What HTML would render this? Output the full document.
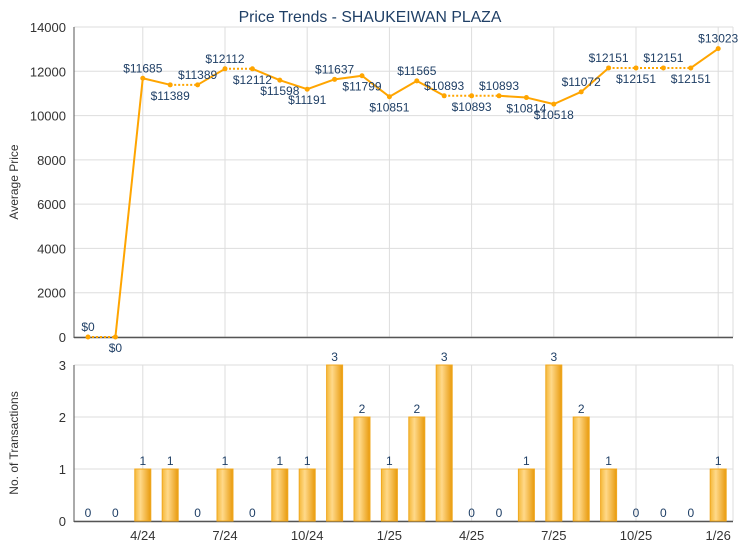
<!DOCTYPE html>
<html><head><meta charset="utf-8"><style>
html,body{margin:0;padding:0;background:#fff;}
svg{display:block;font-family:"Liberation Sans",sans-serif;}
</style></head><body>
<svg id="s" width="740" height="550" viewBox="0 0 740 550" xmlns="http://www.w3.org/2000/svg">
<defs>
<linearGradient id="bg" x1="0" x2="1" y1="0" y2="0">
<stop offset="0" stop-color="#f5b93a"/><stop offset="0.35" stop-color="#ffd98a"/><stop offset="1" stop-color="#e89a0c"/>
</linearGradient>
</defs>
<text x="370" y="22" text-anchor="middle" font-size="15.8" fill="#1f3f66">Price Trends - SHAUKEIWAN PLAZA</text>
<g id="g"></g>
</svg>
<script>
var g=document.getElementById('g'),h='';
var L=74,R=733;
function X(i){return 88+27.4*i;}
function Yt(v){return 337-v/14000*310;}
function Yb(v){return 521-v/3*156;}
for(var v=0;v<=14000;v+=2000){var y=Yt(v);h+='<line x1="'+L+'" x2="'+R+'" y1="'+y+'" y2="'+y+'" stroke="#ddd"/>';h+='<text x="66" y="'+(y+5)+'" text-anchor="end" font-size="13" fill="#333">'+v+'</text>';}
for(var c=0;c<=3;c++){var y=Yb(c);h+='<line x1="'+L+'" x2="'+R+'" y1="'+y+'" y2="'+y+'" stroke="#ddd"/>';h+='<text x="66" y="'+(y+5)+'" text-anchor="end" font-size="13" fill="#333">'+c+'</text>';}
var labs=['4/24','7/24','10/24','1/25','4/25','7/25','10/25','1/26'];
for(var k=0;k<8;k++){var x=X(2+3*k);h+='<line x1="'+x+'" x2="'+x+'" y1="27" y2="337" stroke="#ddd"/><line x1="'+x+'" x2="'+x+'" y1="365" y2="521" stroke="#ddd"/>';h+='<text x="'+x+'" y="540" text-anchor="middle" font-size="13" fill="#333">'+labs[k]+'</text>';}
h+='<line x1="'+R+'" x2="'+R+'" y1="27" y2="337" stroke="#ddd"/><line x1="'+R+'" x2="'+R+'" y1="365" y2="521" stroke="#ddd"/>';
h+='<line x1="'+L+'" x2="'+L+'" y1="27" y2="338" stroke="#555"/><line x1="'+L+'" x2="'+R+'" y1="337.5" y2="337.5" stroke="#555" stroke-width="1.5"/>';
h+='<line x1="'+L+'" x2="'+L+'" y1="365" y2="522" stroke="#555"/><line x1="'+L+'" x2="'+R+'" y1="521.5" y2="521.5" stroke="#555" stroke-width="1.5"/>';
h+='<text transform="translate(18,182) rotate(-90)" text-anchor="middle" font-size="12" fill="#333">Average Price</text>';
h+='<text transform="translate(18,443) rotate(-90)" text-anchor="middle" font-size="12" fill="#333">No. of Transactions</text>';
var p=[0,0,11685,11389,11389,12112,12112,11598,11191,11637,11799,10851,11565,10893,10893,10893,10814,10518,11072,12151,12151,12151,12151,13023];
var n=[0,0,1,1,0,1,0,1,1,3,2,1,2,3,0,0,1,3,2,1,0,0,0,1];
var up=[1,0,1,0,1,1,0,0,0,1,0,0,1,1,0,1,0,0,1,1,0,1,0,1];
for(var i=0;i<24;i++){var x=X(i);if(n[i]>0){var y=Yb(n[i]);h+='<rect x="'+(x-8)+'" y="'+y+'" width="16" height="'+(521-y)+'" fill="url(#bg)" stroke="#f0a820" stroke-width="1"/>';}
h+='<text x="'+x+'" y="'+(Yb(n[i])-4)+'" text-anchor="middle" font-size="12" fill="#1f3f66">'+n[i]+'</text>';}
for(var i=1;i<24;i++){var d=n[i]==0;h+='<line x1="'+X(i-1)+'" y1="'+Yt(p[i-1])+'" x2="'+X(i)+'" y2="'+Yt(p[i])+'" stroke="#ffa500" stroke-width="2"'+(d?' stroke-dasharray="2,2"':'')+'/>';}
for(var i=0;i<24;i++){var x=X(i),y=Yt(p[i]);h+='<circle cx="'+x+'" cy="'+y+'" r="2.5" fill="#ffa500"/>';
h+='<text x="'+x+'" y="'+(up[i]?y-6:y+15)+'" text-anchor="middle" font-size="12" fill="#1f3f66">$'+p[i]+'</text>';}
g.innerHTML=h;
</script>
</body></html>
